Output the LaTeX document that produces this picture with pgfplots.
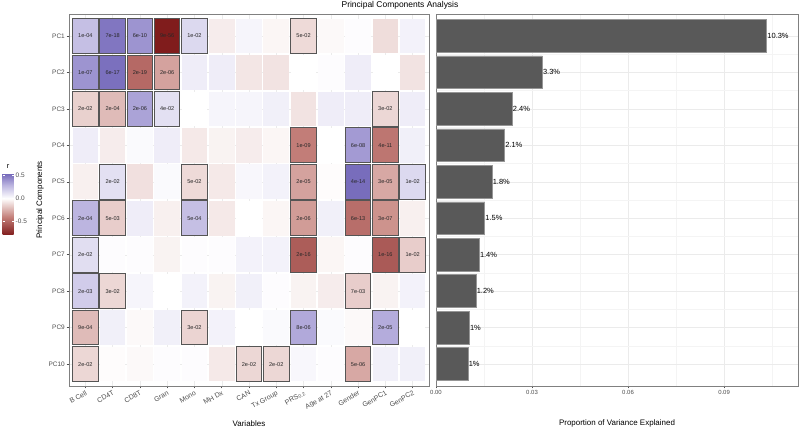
\documentclass[border=0pt]{standalone}
\usepackage{pgfplots}
\usepackage{pgfplotstable}
\pgfplotsset{compat=1.18}
\usepackage{fontspec}
\setmainfont{Liberation Sans}
\setsansfont{Liberation Sans}

\definecolor{tickgrey}{RGB}{77,77,77}
\definecolor{bordergrey}{RGB}{128,128,128}
\definecolor{gridgrey}{RGB}{235,235,235}
\definecolor{minorgrey}{RGB}{244,244,244}
\definecolor{bardark}{RGB}{89,89,89}
\definecolor{barline}{RGB}{150,150,150}
\definecolor{boxgrey}{RGB}{85,85,85}
\definecolor{celltext}{RGB}{40,40,40}

\pgfdeclareplotmark{cell}{\pgfpathrectangle{\pgfpoint{-12.8bp}{-17.3bp}}{\pgfpoint{25.6bp}{34.6bp}}\pgfusepathqfill}
\pgfdeclareplotmark{cellbox}{\pgfpathrectangle{\pgfpoint{-12.8bp}{-17.3bp}}{\pgfpoint{25.6bp}{34.6bp}}\pgfusepathqstroke}

% x = variable (1..13), y = 11 - PC index, r = correlation
\pgfplotstableread{
x y r
1 10 0.25
2 10 0.50
3 10 0.40
4 10 -0.81
5 10 0.15
6 10 -0.06
7 10 0.04
8 10 -0.03
9 10 -0.12
10 10 -0.02
11 10 0.01
12 10 -0.11
13 10 0.05
1 9 0.40
2 9 0.52
3 9 -0.50
4 9 -0.30
5 9 0.07
6 9 0.07
7 9 -0.08
8 9 -0.09
9 9 0.00
10 9 0.01
11 9 0.07
12 9 0.00
13 9 -0.09
1 8 -0.15
2 8 -0.22
3 8 0.35
4 8 0.12
5 8 0.00
6 8 0.04
7 8 0.04
8 8 0.06
9 8 -0.09
10 8 0.07
11 8 0.07
12 8 -0.13
13 8 0.07
1 7 0.07
2 7 -0.06
3 7 0.02
4 7 0.07
5 7 -0.07
6 7 -0.04
7 7 -0.06
8 7 -0.03
9 7 -0.42
10 7 0.00
11 7 0.38
12 7 -0.45
13 7 0.06
1 6 -0.05
2 6 0.12
3 6 -0.10
4 6 0.02
5 6 -0.12
6 6 -0.07
7 6 0.03
8 6 0.05
9 6 -0.30
10 6 -0.01
11 6 0.53
12 6 -0.28
13 6 0.15
1 5 0.29
2 5 -0.16
3 5 0.07
4 5 -0.05
5 5 0.25
6 5 -0.07
7 5 0.00
8 5 -0.03
9 5 -0.32
10 5 0.06
11 5 -0.48
12 5 -0.35
13 5 -0.05
1 4 0.13
2 4 0.01
3 4 0.01
4 4 -0.04
5 4 0.01
6 4 0.01
7 4 0.05
8 4 0.05
9 4 -0.55
10 4 -0.03
11 4 0.01
12 4 -0.56
13 4 -0.16
1 3 0.20
2 3 -0.13
3 3 0.04
4 3 0.00
5 3 0.05
6 3 -0.04
7 3 0.06
8 3 0.01
9 3 -0.04
10 3 -0.06
11 3 -0.16
12 3 -0.04
13 3 0.05
1 2 -0.22
2 2 0.06
3 2 -0.02
4 2 0.06
5 2 -0.14
6 2 0.05
7 2 0.00
8 2 0.02
9 2 0.33
10 2 0.02
11 2 -0.02
12 2 0.32
13 2 0.00
1 1 -0.13
2 1 -0.01
3 1 -0.02
4 1 0.01
5 1 0.01
6 1 -0.07
7 1 -0.13
8 1 -0.13
9 1 0.03
10 1 0.01
11 1 -0.28
12 1 0.06
13 1 0.06
}\heat

\pgfplotstableread{
x y p
1 10 1e-04
2 10 7e-18
3 10 6e-10
4 10 9e-56
5 10 1e-02
9 10 5e-02
1 9 1e-07
2 9 6e-17
3 9 2e-19
4 9 2e-06
1 8 2e-02
2 8 2e-04
3 8 2e-06
4 8 4e-02
12 8 3e-02
9 7 1e-09
11 7 6e-08
12 7 4e-11
2 6 2e-02
5 6 5e-02
9 6 2e-05
11 6 4e-14
12 6 3e-05
13 6 1e-02
1 5 2e-04
2 5 5e-03
5 5 5e-04
9 5 2e-06
11 5 6e-13
12 5 3e-07
1 4 2e-02
9 4 2e-16
12 4 1e-16
13 4 1e-02
1 3 2e-03
2 3 3e-02
11 3 7e-03
1 2 9e-04
5 2 3e-02
9 2 8e-06
12 2 2e-05
1 1 2e-02
7 1 2e-02
8 1 2e-02
11 1 5e-06
}\boxed

\pgfplotstableread{
y v lab
10 0.1033 10.3
9 0.0332 3.3
8 0.0238 2.4
7 0.0214 2.1
6 0.0175 1.8
5 0.0152 1.5
4 0.0135 1.4
3 0.0125 1.2
2 0.0104 1
1 0.0100 1
}\pve

\begin{document}
\begin{tikzpicture}[x=1bp,y=1bp]
\useasboundingbox (0bp,0bp) rectangle (800bp,429bp);

% ---------- heatmap ----------
\begin{axis}[
  at={(69bp,43bp)}, anchor=south west,
  scale only axis, width=360bp, height=372bp,
  xmin=0.4, xmax=13.6, ymin=0.4, ymax=10.6,
  axis line style={draw=bordergrey, line width=0.9bp},
  xtick={1,...,13},
  xticklabels={B Cell, CD4T, CD8T, Gran, Mono, MH Dx, CAN, Tx Group, PRS\textsubscript{0.2}, Age at 27, Gender, GenPC1, GenPC2},
  ytick={1,...,10},
  yticklabels={PC10,PC9,PC8,PC7,PC6,PC5,PC4,PC3,PC2,PC1},
  tick pos=left, tick align=outside, major tick length=2.5bp,
  tick style={draw=tickgrey, line width=0.5bp},
  x tick label style={rotate=30, anchor=north east, font=\fontsize{7}{8}\selectfont, text=tickgrey, inner sep=1bp},
  y tick label style={font=\fontsize{6.5}{7.5}\selectfont, text=tickgrey, inner sep=1.5bp},
  grid=major, major grid style={draw=gridgrey, line width=0.4bp},
  colormap={ggr}{rgb255(0pt)=(128,28,28); rgb255(40pt)=(196,128,122); rgb255(81pt)=(255,255,255); rgb255(110pt)=(188,181,224); rgb255(137pt)=(112,100,184)},
  point meta min=-0.81, point meta max=0.56,
  colorbar,
  colorbar style={
    at={(parent axis.west)}, anchor=north west, xshift=-75bp, yshift=27bp,
    scale only axis, width=11bp, height=62bp,
    ytick={-0.5,0,0.5}, yticklabels={-0.5,0.0,0.5},
    yticklabel pos=right,
    yticklabel style={font=\fontsize{6.5}{7.5}\selectfont, text=tickgrey, inner sep=2bp},
    major tick length=2bp, tick style={draw=white, line width=0.6bp},
    tick align=inside,
    axis line style={draw=none},
    title={r}, title style={font=\fontsize{7.5}{8.5}\selectfont, inner sep=1bp, yshift=-3bp},
  },
]
\addplot[scatter, only marks, mark=cell, point meta=explicit,
  scatter/use mapped color={draw=none, fill=mapped color}]
  table[x=x, y=y, meta=r] {\heat};
\addplot[only marks, mark=cellbox, mark options={draw=boxgrey, line width=1bp},
  point meta=explicit symbolic, nodes near coords,
  nodes near coords style={anchor=center, font=\fontsize{5.6}{6}\selectfont, text=celltext}]
  table[x=x, y=y, meta=p] {\boxed};
\end{axis}

% ---------- variance bars ----------
\begin{axis}[
  at={(436bp,43bp)}, anchor=south west,
  scale only axis, width=362bp, height=372bp,
  xmin=0, xmax=0.1131, ymin=0.4, ymax=10.6,
  axis line style={draw=bordergrey, line width=0.9bp},
  xtick={0,0.03,0.06,0.09}, xticklabels={0.00,0.03,0.06,0.09},
  minor xtick={0.015,0.045,0.075,0.105},
  ytick={1,...,10}, yticklabels={},
  minor ytick={1.5,2.5,3.5,4.5,5.5,6.5,7.5,8.5,9.5},
  tick pos=left, tick align=outside,
  xtick style={draw=tickgrey, line width=0.5bp},
  x tick label style={font=\fontsize{6}{7}\selectfont, text=tickgrey, inner sep=2bp},
  ytick style={draw=none}, minor tick length=0pt, major tick length=2.5bp,
  grid=both, major grid style={draw=gridgrey, line width=0.5bp},
  minor grid style={draw=minorgrey, line width=0.4bp},
]
\addplot[xbar, bar width=0.9, fill=bardark, draw=barline, line width=0.6bp,
  point meta=explicit symbolic,
  nodes near coords={\pgfplotspointmeta\%},
  nodes near coords style={anchor=west, font=\fontsize{7.5}{8.5}\selectfont, text=black, inner sep=0.5bp}]
  table[x=v, y=y, meta=lab] {\pve};
\end{axis}

% ---------- titles ----------
\node[font=\fontsize{8.5}{9.5}\selectfont, text=black] at (400bp,423.5bp) {Principal Components Analysis};
\node[font=\fontsize{8}{9}\selectfont, text=black] at (249bp,5bp) {Variables};
\node[font=\fontsize{8}{9}\selectfont, text=black, rotate=90] at (40bp,229bp) {Principal Components};
\node[font=\fontsize{8}{9}\selectfont, text=black] at (617bp,6bp) {Proportion of Variance Explained};
\end{tikzpicture}
\end{document}
